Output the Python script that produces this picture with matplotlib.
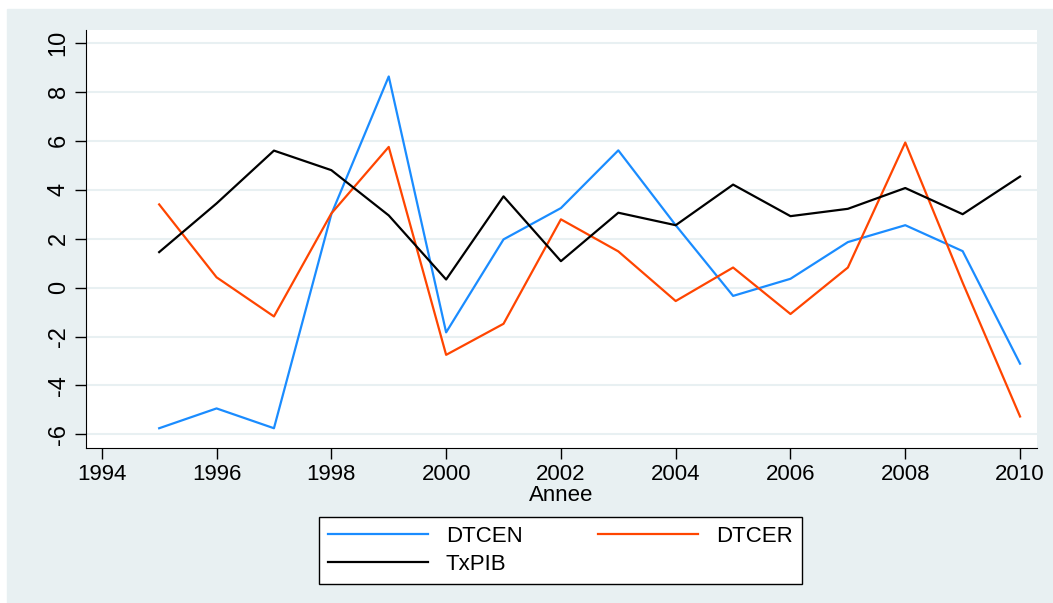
import matplotlib.pyplot as plt
from matplotlib.patches import Rectangle

annee = [1995, 1996, 1997, 1998, 1999, 2000, 2001, 2002,
         2003, 2004, 2005, 2006, 2007, 2008, 2009, 2010]
dtcen = [-5.75, -4.94, -5.75, 3.0, 8.63, -1.83, 1.97, 3.25,
         5.61, 2.55, -0.34, 0.36, 1.86, 2.55, 1.49, -3.11]
dtcer = [3.40, 0.42, -1.18, 3.03, 5.75, -2.75, -1.48, 2.79,
         1.48, -0.55, 0.82, -1.08, 0.82, 5.93, 0.2, -5.27]
txpib = [1.45, 3.44, 5.60, 4.80, 2.95, 0.33, 3.73, 1.08,
         3.06, 2.55, 4.21, 2.92, 3.22, 4.07, 3.00, 4.54]

xticks = list(range(1994, 2011, 2))
yticks = list(range(-6, 11, 2))

bg = "#E8F0F2"
plt.rcParams['font.family'] = ['Liberation Sans', 'DejaVu Sans']
plt.rcParams['axes.unicode_minus'] = False

fig = plt.figure(figsize=(10.53, 6.03), dpi=100)
fig.patch.set_facecolor("white")
# stata-like grey panel, white margin at left and top
fig.patches.append(Rectangle((7 / 1053, 0), 1, 1 - 9 / 603,
                             transform=fig.transFigure, color=bg, zorder=-10))

ax = fig.add_axes([85.7 / 1053, 1 - 448.3 / 603,
                   (1036.7 - 85.7) / 1053, (448.3 - 30) / 603])
ax.set_zorder(1)
ax.set_facecolor("white")

l1, = ax.plot(annee, dtcen, color="#1A8CFF", lw=1.6, label="DTCEN")
l2, = ax.plot(annee, dtcer, color="#FF4500", lw=1.6, label="DTCER")
l3, = ax.plot(annee, txpib, color="black", lw=1.6, label="TxPIB")

ax.set_xlim(1993.72, 2010.29)
ax.set_ylim(-6.57, 10.53)
ax.set_xticks(xticks)
ax.set_yticks(yticks)
ax.grid(axis="y", color=bg, lw=1.5)
ax.set_axisbelow(True)
for s in ["top", "right"]:
    ax.spines[s].set_visible(False)
ax.tick_params(axis="both", direction="out", length=8, width=1, labelsize=16)
ax.tick_params(axis="y", labelrotation=90, labelsize=17)
for t in ax.get_yticklabels():
    t.set_verticalalignment("center")
ax.set_xlabel("Annee", fontsize=16, labelpad=0)

leg = fig.legend(handles=[l1, l3, l2], ncol=2, loc="center",
                 bbox_to_anchor=(319.3 / 1053, 1 - 584.3 / 603,
                                 (801.7 - 319.3) / 1053, (584.3 - 516.7) / 603),
                 mode="expand", fontsize=16, fancybox=False, frameon=True,
                 framealpha=1, facecolor="white",
                 edgecolor="black", handlelength=4.5, handletextpad=0.8,
                 labelspacing=0.3, borderaxespad=0)
leg.get_frame().set_linewidth(1)

fig.savefig("out.png", dpi=100, facecolor=fig.get_facecolor())
